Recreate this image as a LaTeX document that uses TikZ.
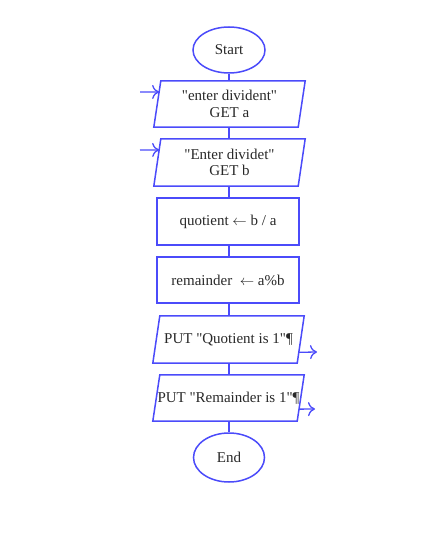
\documentclass[tikz,border=0pt]{standalone}
\usepackage{fontspec}
\setmainfont{Liberation Serif}[Ligatures=TeXOff]
\usetikzlibrary{calc,shapes.geometric,arrows.meta}
\definecolor{flow}{RGB}{75,75,250}
\definecolor{ink}{RGB}{40,40,40}
\begin{document}
\begin{tikzpicture}[x=1pt,y=1pt,
  every node/.style={font=\fontsize{15}{15.5}\selectfont, text=ink, align=center, inner sep=0pt},
  term/.style={ellipse, draw=flow, line width=1.5pt},
  proc/.style={rectangle, draw=flow, line width=1.6pt, minimum width=142pt},
  iobox/.style={rectangle, draw=none, minimum width=144pt},
  slantedge/.style={draw=flow, line width=1.5pt, line join=miter},
  link/.style={draw=flow, line width=1.5pt},
  arr/.style={draw=flow, line width=1.3pt, -{Computer Modern Rightarrow[length=7pt,width=14pt]}}]
\useasboundingbox (0,0) rectangle (435,-548);
\node[term, minimum width=72pt, minimum height=46pt] (start) at (229,-50) {Start};
\node[iobox, minimum height=46pt] (p1) at (229.5,-104) {\raisebox{1pt}{"enter divident"}\\GET a};
\node[iobox, minimum height=47pt] (p2) at (229.5,-162.5) {\raisebox{1pt}{"Enter dividet"}\\GET b};
\node[proc, minimum height=47pt] (r1) at (228,-221.5) {\raisebox{-4pt}{quotient $\leftarrow$ b / a}};
\node[proc, minimum height=46pt] (r2) at (228,-280) {\raisebox{-6pt}{remainder\enspace $\leftarrow$ a\%b}};
\node[iobox, minimum height=47pt] (p3) at (228.5,-339.5) {\raisebox{-3pt}{PUT "Quotient is 1"¶}};
\node[iobox, minimum height=46pt] (p4) at (228.5,-398) {\raisebox{-3pt}{PUT "Remainder is 1"¶}};
\node[term, minimum width=71pt, minimum height=49pt] (end) at (229,-457.5) {End};
\foreach \n in {p1,p2,p3,p4}{
  \coordinate (\n-tl) at ($(\n.north west)+(3.5,0)$);
  \coordinate (\n-tr) at ($(\n.north east)+(3.5,0)$);
  \coordinate (\n-br) at ($(\n.south east)+(-3.5,0)$);
  \coordinate (\n-bl) at ($(\n.south west)+(-3.5,0)$);
  \draw[slantedge] (\n-tl) -- (\n-tr) -- (\n-br) -- (\n-bl) -- cycle;
}
\draw[link] (start.south) -- (start.south |- p1.north);
\draw[link] (p1.south -| start.south) -- (start.south |- p2.north);
\draw[link] (p2.south -| start.south) -- (start.south |- r1.north);
\draw[link] (r1.south -| start.south) -- (start.south |- r2.north);
\draw[link] (r2.south -| start.south) -- (start.south |- p3.north);
\draw[link] (p3.south -| start.south) -- (start.south |- p4.north);
\draw[link] (p4.south -| start.south) -- (end.north);
\coordinate (in1) at (140,-92);
\coordinate (in2) at (140,-150);
\coordinate (out1) at (317,-352);
\coordinate (out2) at (315,-409);
\draw[arr] (in1) -- ($(p1-tl)!0.24!(p1-bl)$);
\draw[arr] (in2) -- ($(p2-tl)!0.234!(p2-bl)$);
\draw[arr] ($(p3-tr)!0.77!(p3-br)$) -- (out1);
\draw[arr] ($(p4-tr)!0.74!(p4-br)$) -- (out2);
\end{tikzpicture}
\end{document}
